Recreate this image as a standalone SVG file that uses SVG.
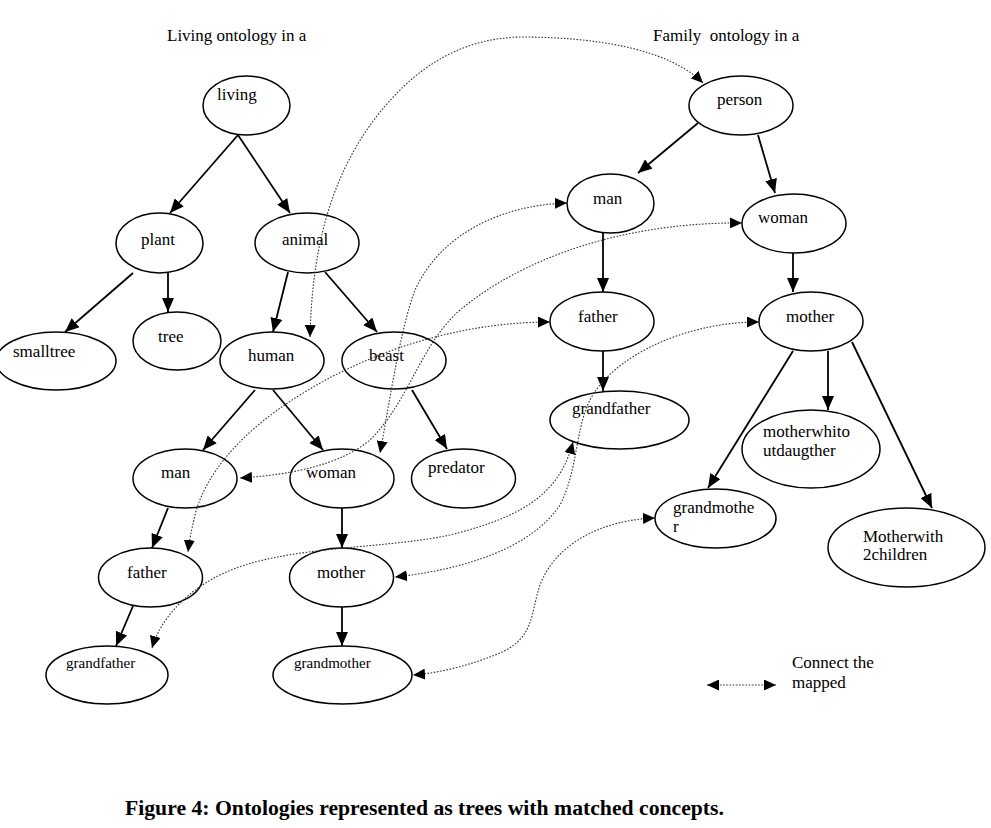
<svg xmlns="http://www.w3.org/2000/svg" width="991" height="828" viewBox="0 0 991 828">
<style>
text{font-family:"Liberation Serif","Times New Roman",serif;font-size:17px;fill:#000}
.sm{font-size:15px}
.cap{font-size:21.7px;font-weight:bold}
ellipse{fill:#fff;stroke:#000;stroke-width:1.5}
.e{stroke:#000;stroke-width:1.8;fill:none;marker-end:url(#ah)}
.m{stroke:#333;stroke-width:1.1;fill:none;stroke-dasharray:1.6 1.6;marker-start:url(#dh);marker-end:url(#dh)}
</style>
<defs>
<marker id="ah" viewBox="0 0 14 12" refX="14" refY="6" markerWidth="14" markerHeight="12" markerUnits="userSpaceOnUse" orient="auto"><path d="M0,0 L14,6 L0,12 z" fill="#000"/></marker>
<marker id="dh" viewBox="0 0 12 11" refX="12" refY="5.5" markerWidth="12" markerHeight="11" markerUnits="userSpaceOnUse" orient="auto-start-reverse"><path d="M0,0 L12,5.5 L0,11 z" fill="#000"/></marker>
</defs>
<rect width="991" height="828" fill="#fff"/>
<text x="167" y="41">Living ontology in a</text>
<text x="653" y="41" xml:space="preserve">Family  ontology in a</text>

<g id="edges">
<line class="e" x1="238" y1="135" x2="170" y2="213"/>
<line class="e" x1="238" y1="135" x2="290" y2="213"/>
<line class="e" x1="133" y1="273" x2="65" y2="332"/>
<line class="e" x1="168" y1="273" x2="168" y2="312"/>
<line class="e" x1="288" y1="272" x2="273" y2="332"/>
<line class="e" x1="325" y1="272" x2="377" y2="332"/>
<line class="e" x1="255" y1="390" x2="203" y2="450"/>
<line class="e" x1="273" y1="390" x2="323" y2="450"/>
<line class="e" x1="412" y1="390" x2="447" y2="449"/>
<line class="e" x1="168" y1="508" x2="152" y2="548"/>
<line class="e" x1="342" y1="508" x2="342" y2="548"/>
<line class="e" x1="133" y1="606" x2="116" y2="646"/>
<line class="e" x1="342" y1="607" x2="342" y2="646"/>
<line class="e" x1="698" y1="123" x2="638" y2="173"/>
<line class="e" x1="758" y1="135" x2="775" y2="193"/>
<line class="e" x1="603" y1="233" x2="603" y2="292"/>
<line class="e" x1="793" y1="253" x2="793" y2="292"/>
<line class="e" x1="603" y1="351" x2="603" y2="391"/>
<line class="e" x1="793" y1="351" x2="708" y2="488"/>
<line class="e" x1="828" y1="351" x2="828" y2="410"/>
<line class="e" x1="852" y1="342" x2="932" y2="508"/>
</g>

<g id="n-living"><ellipse cx="246.5" cy="105.5" rx="43.5" ry="29.5"/><text x="217" y="100">living</text></g>
<g id="n-plant"><ellipse cx="159.5" cy="243" rx="43.5" ry="30"/><text x="141" y="245">plant</text></g>
<g id="n-animal"><ellipse cx="307" cy="243" rx="52" ry="30"/><text x="282" y="245">animal</text></g>
<g id="n-smalltree"><ellipse cx="56" cy="361" rx="60" ry="29"/><text x="13" y="357">smalltree</text></g>
<g id="n-tree"><ellipse cx="177" cy="341" rx="44" ry="29"/><text x="158" y="342">tree</text></g>
<g id="n-human"><ellipse cx="272" cy="360.5" rx="52" ry="28.5"/><text x="248" y="361">human</text></g>
<g id="n-beast"><ellipse cx="394" cy="360.5" rx="52" ry="28.5"/><text x="369" y="361">beast</text></g>
<g id="n-man-l"><ellipse cx="185" cy="478.5" rx="52" ry="29.5"/><text x="161" y="478">man</text></g>
<g id="n-woman-l"><ellipse cx="342" cy="478.5" rx="52" ry="29.5"/><text x="306" y="478">woman</text></g>
<g id="n-predator"><ellipse cx="463.5" cy="478.5" rx="52" ry="29.5"/><text x="428" y="473">predator</text></g>
<g id="n-father-l"><ellipse cx="150.5" cy="577.5" rx="52" ry="29.5"/><text x="127" y="578">father</text></g>
<g id="n-mother-l"><ellipse cx="341.5" cy="577.5" rx="52" ry="29.5"/><text x="317" y="578">mother</text></g>
<g id="n-grandfather-l"><ellipse cx="107" cy="675" rx="61" ry="29"/><text class="sm" x="66" y="668">grandfather</text></g>
<g id="n-grandmother-l"><ellipse cx="342.5" cy="675" rx="69.5" ry="29"/><text class="sm" x="294" y="668">grandmother</text></g>

<g id="n-person"><ellipse cx="741" cy="105.5" rx="52" ry="29.5"/><text x="717" y="105">person</text></g>
<g id="n-man-r"><ellipse cx="610.5" cy="203.5" rx="43.5" ry="29.5"/><text x="593" y="204">man</text></g>
<g id="n-woman-r"><ellipse cx="794" cy="223.5" rx="52" ry="29.5"/><text x="758" y="223">woman</text></g>
<g id="n-father-r"><ellipse cx="602" cy="321.5" rx="52" ry="29.5"/><text x="578" y="322">father</text></g>
<g id="n-mother-r"><ellipse cx="811" cy="321.5" rx="52" ry="29.5"/><text x="786" y="322">mother</text></g>
<g id="n-grandfather-r"><ellipse cx="619.5" cy="420" rx="69.5" ry="29"/><text x="572" y="414">grandfather</text></g>
<g id="n-motherwhitoutdaugther"><ellipse cx="811" cy="449" rx="69" ry="39"/><text x="763" y="437">motherwhito</text><text x="763" y="456">utdaugther</text></g>
<g id="n-grandmother-r"><ellipse cx="715.5" cy="518.5" rx="60.5" ry="29.5"/><text x="673" y="513">grandmothe</text><text x="673" y="532">r</text></g>
<g id="n-motherwith2children"><ellipse cx="906.5" cy="547.5" rx="78.5" ry="39.5"/><text x="863" y="542">Motherwith</text><text x="863" y="560">2children</text></g>

<g id="mappings">
<path class="m" d="M310,337 C312,250 330,160 400,90 C430,60 470,38 520,37 C600,37 670,50 703,83"/>
<path class="m" d="M567,203 C500,205 440,235 415,290 C400,330 390,400 380,453"/>
<path class="m" d="M742,223 C620,222 520,260 460,310 C420,345 410,400 370,440 C340,465 290,475 240,478"/>
<path class="m" d="M550,322 C470,322 380,345 300,395 C240,432 205,475 195,515 C191,532 189,543 188,552"/>
<path class="m" d="M573,442 C560,490 530,515 450,535 C380,550 280,545 220,575 C185,592 160,620 152,648"/>
<path class="m" d="M759,322 C680,322 610,360 590,400 C575,430 578,470 560,505 C530,550 460,570 395,577"/>
<path class="m" d="M655,518 C600,520 555,545 540,585 C530,615 535,640 495,655 C470,665 440,673 413,675"/>
<path class="m" d="M707,685 L776,685"/>
</g>

<text x="792" y="668">Connect the</text>
<text x="792" y="688">mapped</text>
<text class="cap" x="125" y="815">Figure 4: Ontologies represented as trees with matched concepts.</text>
</svg>
